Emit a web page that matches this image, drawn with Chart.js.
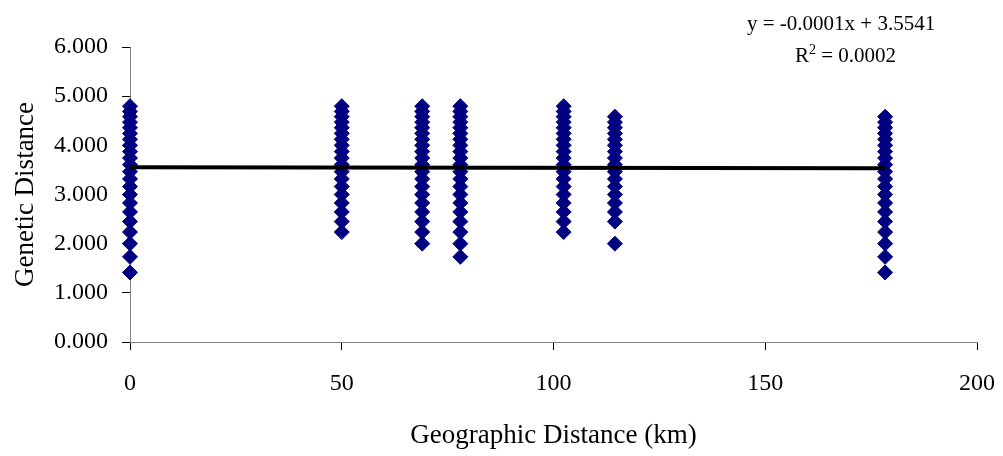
<!DOCTYPE html>
<html>
<head>
<meta charset="utf-8">
<script src="https://cdn.jsdelivr.net/npm/chart.js@4.4.0/dist/chart.umd.min.js"></script>
<style>
  body { margin: 0; background: #fff; }
  #wrap { position: relative; width: 1003px; height: 456px; }
  .eq { position: absolute; font-family: "Liberation Serif", serif; font-size: 21px; color: #000; white-space: nowrap; }
  .eq sup { font-size: 14px; line-height: 0; }
</style>
</head>
<body>
<div id="wrap">
  <canvas id="chart" width="1003" height="456"></canvas>
  <div class="eq" id="eq1" style="left:747px; top:11px;">y = -0.0001x + 3.5541</div>
  <div class="eq" id="eq2" style="left:795px; top:43px;">R<sup>2</sup> = 0.0002</div>
</div>
<script>
// distancias geograficas (km) de cada columna de puntos
const distanciasKm = [0, 50, 69, 78, 102.4, 114.5, 178.3];

const genCol0 = [1.414, 1.732, 2.000, 2.236, 2.449, 2.646, 2.828, 3.000, 3.162, 3.317, 3.464, 3.606, 3.742, 3.873, 4.000, 4.123, 4.243, 4.359, 4.472, 4.583, 4.690, 4.796];
const genCol50 = [2.236, 2.449, 2.646, 2.828, 3.000, 3.162, 3.317, 3.464, 3.606, 3.742, 3.873, 4.000, 4.123, 4.243, 4.359, 4.472, 4.583, 4.690, 4.796];
const genCol69 = [2.000, 2.236, 2.449, 2.646, 2.828, 3.000, 3.162, 3.317, 3.464, 3.606, 3.742, 3.873, 4.000, 4.123, 4.243, 4.359, 4.472, 4.583, 4.690, 4.796];
const genCol78 = [1.732, 2.000, 2.236, 2.449, 2.646, 2.828, 3.000, 3.162, 3.317, 3.464, 3.606, 3.742, 3.873, 4.000, 4.123, 4.243, 4.359, 4.472, 4.583, 4.690, 4.796];
const genCol102 = [2.236, 2.449, 2.646, 2.828, 3.000, 3.162, 3.317, 3.464, 3.606, 3.742, 3.873, 4.000, 4.123, 4.243, 4.359, 4.472, 4.583, 4.690, 4.796];
const genCol114 = [2.000, 2.449, 2.646, 2.828, 3.000, 3.162, 3.317, 3.464, 3.606, 3.742, 3.873, 4.000, 4.123, 4.243, 4.359, 4.472, 4.583];
const genCol178 = [1.414, 1.732, 2.000, 2.236, 2.449, 2.646, 2.828, 3.000, 3.162, 3.317, 3.464, 3.606, 3.742, 3.873, 4.000, 4.123, 4.243, 4.359, 4.472, 4.583];

const columnas = [genCol0, genCol50, genCol69, genCol78, genCol102, genCol114, genCol178];

// linea de tendencia: y = -0.0001x + 3.5541
const tendenciaX = [0, 178.3];
const tendenciaY = [3.5541, 3.5363];

const xTicks = [0, 50, 100, 150, 200];
const yTicks = [0, 1, 2, 3, 4, 5, 6];

document.addEventListener('DOMContentLoaded', () => {
    const puntos = [];
    columnas.forEach((col, i) => {
        col.forEach(v => puntos.push({ x: distanciasKm[i], y: v }));
    });
    const tendencia = tendenciaX.map((x, i) => ({ x: x, y: tendenciaY[i] }));

    Chart.defaults.font.family = '"Liberation Serif", serif';
    Chart.defaults.color = '#000';

    const ctx = document.getElementById('chart').getContext('2d');
    new Chart(ctx, {
        type: 'scatter',
        data: {
            datasets: [
                {
                    type: 'line',
                    label: 'Tendencia',
                    data: tendencia,
                    borderColor: '#000',
                    borderWidth: 4,
                    pointRadius: 0,
                    fill: false,
                    clip: false,
                    order: 0
                },
                {
                    label: 'Distancia genetica',
                    data: puntos,
                    pointStyle: 'rectRot',
                    pointRadius: 7.5,
                    backgroundColor: '#000080',
                    borderColor: '#000080',
                    borderWidth: 1,
                    clip: false,
                    order: 1
                }
            ]
        },
        options: {
            responsive: false,
            animation: false,
            layout: { padding: { top: 47, right: 26, left: 0, bottom: 0 } },
            plugins: { legend: { display: false }, tooltip: { enabled: false } },
            scales: {
                x: {
                    type: 'linear',
                    min: 0,
                    max: 200,
                    afterBuildTicks: s => { s.ticks = xTicks.map(v => ({ value: v })); },
                    ticks: { font: { size: 24 }, padding: 19, maxRotation: 0 },
                    grid: { drawOnChartArea: false, color: '#000', tickLength: 8 },
                    border: { color: '#808080', width: 1 },
                    title: { display: true, text: 'Geographic Distance (km)', font: { size: 27 }, padding: { top: 0, bottom: 4 } },
                    afterFit: s => { s.height = 114; s.paddingRight = 0; s.paddingLeft = 0; }
                },
                y: {
                    min: 0,
                    max: 6,
                    afterBuildTicks: s => { s.ticks = yTicks.map(v => ({ value: v })); },
                    ticks: { font: { size: 24 }, padding: 14, callback: v => v.toFixed(3) },
                    grid: { drawOnChartArea: false, color: '#000', tickLength: 8 },
                    border: { color: '#808080', width: 1 },
                    title: { display: true, text: 'Genetic Distance', font: { size: 27 }, padding: { top: 10, bottom: 0 } },
                    afterFit: s => { s.width = 130; }
                }
            }
        }
    });
});
</script>
</body>
</html>
